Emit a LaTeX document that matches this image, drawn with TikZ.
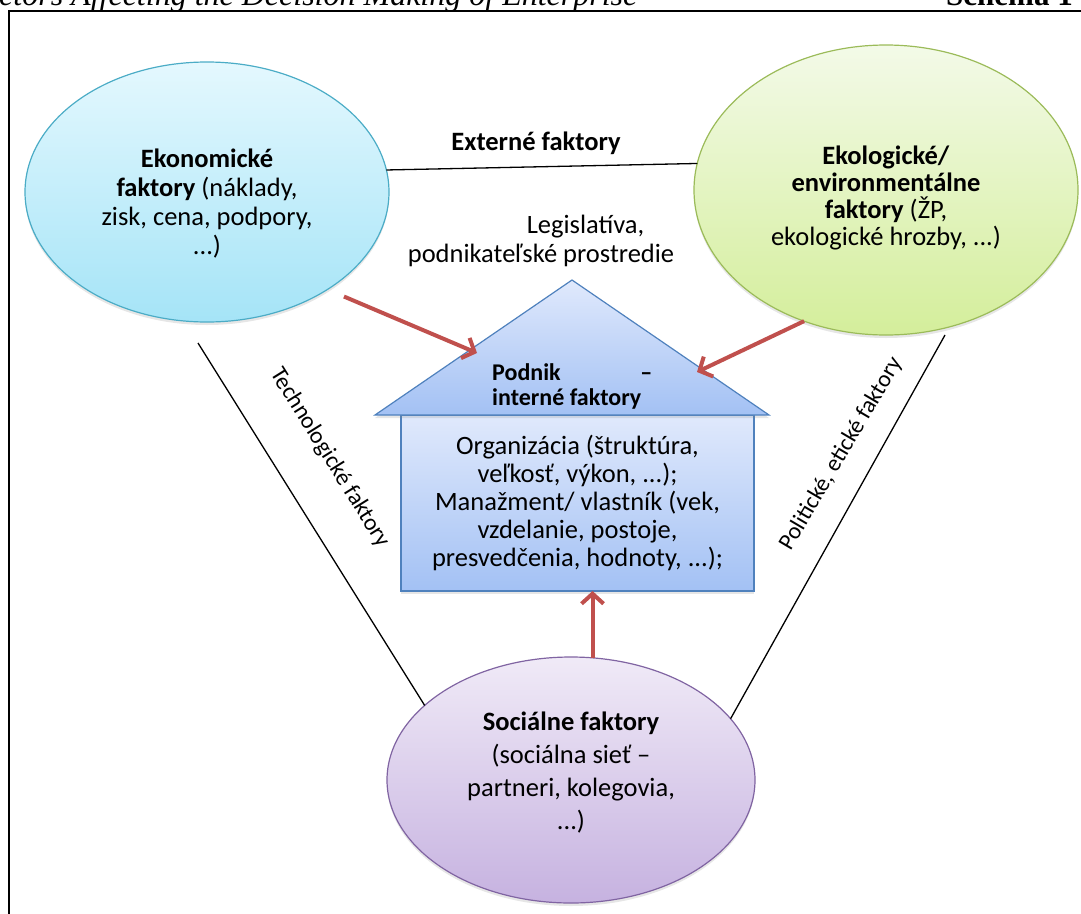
\documentclass[tikz,border=0pt]{standalone}
\usepackage{fontspec}
\setmainfont{Carlito}
\newfontfamily\headfont{Liberation Serif}
\usetikzlibrary{arrows.meta,shapes.geometric,shadows}
\definecolor{ecoline}{RGB}{75,172,198}
\definecolor{ecotop}{RGB}{228,248,254}
\definecolor{ecobot}{RGB}{165,228,247}
\definecolor{ekoline}{RGB}{155,187,89}
\definecolor{ekotop}{RGB}{243,250,232}
\definecolor{ekobot}{RGB}{212,238,155}
\definecolor{socline}{RGB}{128,100,162}
\definecolor{soctop}{RGB}{240,234,247}
\definecolor{socbot}{RGB}{198,178,224}
\definecolor{houseline}{RGB}{79,129,189}
\definecolor{housetop}{RGB}{224,233,252}
\definecolor{housebot}{RGB}{163,193,244}
\definecolor{arrowred}{RGB}{192,80,77}

\begin{document}
\begin{tikzpicture}[x=1pt,y=-1pt,
    factor/.style={ellipse,draw,line width=1.2pt,inner sep=0pt,outer sep=0pt,
      drop shadow={shadow xshift=0pt,shadow yshift=-3pt,opacity=0.2}},
    factortext/.style={inner sep=0pt,align=center,font=\fontsize{26.5}{28.7}\selectfont},
    housebox/.style={rectangle,draw=houseline,line width=1.2pt,top color=housetop,
      bottom color=housebot,inner sep=0pt,outer sep=0pt,align=center,
      font=\fontsize{26.5}{28}\selectfont,
      drop shadow={shadow xshift=0pt,shadow yshift=-3pt,opacity=0.2}},
    textlabel/.style={inner sep=0pt,font=\fontsize{26.5}{28.7}\selectfont},
    sidelabel/.style={inner sep=0pt,font=\fontsize{23.5}{26}\selectfont},
    link/.style={line width=1.3pt},
    push/.style={line width=4pt,draw=arrowred,-{Straight Barb[length=10pt,width=22pt]}}]
  \useasboundingbox (0,0) rectangle (1081,913);
  \clip (0,0) rectangle (1081,913);

  % page header and frame
  \node[anchor=base west,inner sep=0pt,font=\headfont\itshape\fontsize{32}{32}\selectfont]
    (head) at (-1,5) {ctors Affecting the Decision Making of Enterprise};
  \node[anchor=base east,inner sep=0pt,font=\headfont\bfseries\fontsize{31}{31}\selectfont]
    (scheme) at (1073,5) {Schéma 1};
  \draw[line width=2pt] (9,940) -- (9,11) -- (1100,11);

  % factors
  \node[factor,draw=ecoline,top color=ecotop,bottom color=ecobot,
    minimum width=364pt,minimum height=260pt] (eco) at (207,192) {};
  \node[factortext] (ecotext) at (207,203.5)
    {\textbf{Ekonomické}\\\textbf{faktory} (náklady,\\zisk, cena, podpory,\\...)};
  \node[factor,draw=ekoline,top color=ekotop,bottom color=ekobot,
    minimum width=384pt,minimum height=290pt] (eko) at (886,190) {};
  \node[factortext,font=\fontsize{26.5}{27}\selectfont] (ekotext) at (886,198)
    {\textbf{Ekologické/}\\\textbf{environmentálne}\\\textbf{faktory} (ŽP,\\ekologické hrozby, ...)};
  \node[factor,draw=socline,top color=soctop,bottom color=socbot,
    minimum width=368pt,minimum height=246pt] (soc) at (571,780) {};
  \node[factortext,font=\fontsize{26.5}{33}\selectfont] (soctext) at (571,773)
    {\textbf{Sociálne faktory}\\(sociálna sieť –\\partneri, kolegovia,\\...)};

  % house
  \node[housebox,minimum width=353pt,minimum height=176pt] (body) at (577.5,503)
    {Organizácia (štruktúra,\\veľkosť, výkon, ...);\\Manažment/ vlastník (vek,\\vzdelanie, postoje,\\presvedčenia, hodnoty, ...);};
  \draw[draw=houseline,line width=1.2pt,top color=housetop,bottom color=housebot,
    drop shadow={shadow xshift=0pt,shadow yshift=-3pt,opacity=0.2}]
    (375,415) -- (572,280) -- (769,415) -- cycle;
  \node[anchor=west,inner sep=0pt,align=left,font=\bfseries\fontsize{24}{25}\selectfont] (title) at (492,386)
    {\makebox[160pt]{Podnik\hfill–}\\interné faktory};

  % labels
  \node[textlabel,font=\bfseries\fontsize{26.5}{28.7}\selectfont] (ext) at (536,143) {Externé faktory};
  \node[textlabel,align=center] (legis) at (541,241)
    {\hspace*{89pt}Legislatíva,\\podnikateľské prostredie};
  \node[sidelabel,rotate=-58] (tech) at (330,458) {Technologické faktory};
  \node[sidelabel,rotate=59.5] (pol) at (841,454) {Politické, etické faktory};

  % connectors
  \coordinate (techtop) at (198,343);
  \coordinate (poltop) at (945,335);
  \coordinate (hit1) at (477,353);
  \coordinate (hit2) at (697,372);
  \begin{scope}[link]
    \draw (eco.7) -- (eko.172);
    \draw (techtop) -- (soc.153);
    \draw (poltop) -- (soc.21);
  \end{scope}
  \begin{scope}[push]
    \draw[shorten <=18pt] (eco.-39) -- (hit1);
    \draw (eko.-122) -- (hit2);
    \draw (soc.80) -- (soc.80 |- body.south);
  \end{scope}
\end{tikzpicture}
\end{document}
